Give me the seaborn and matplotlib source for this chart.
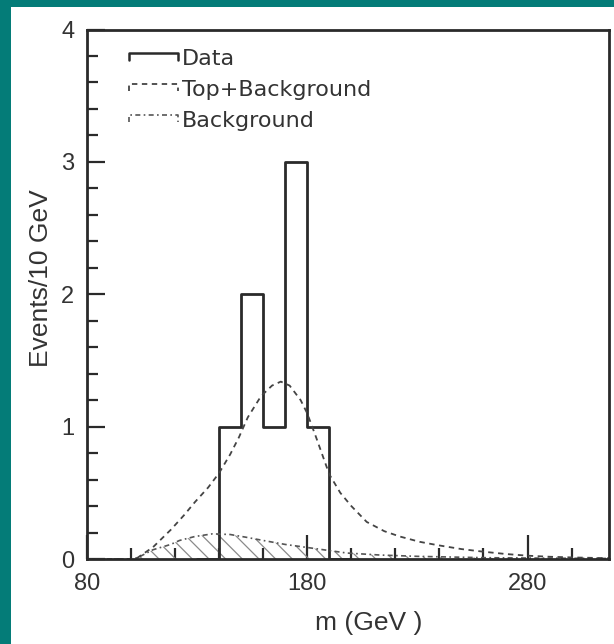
import numpy as np
import pandas as pd
import seaborn as sns
import matplotlib.pyplot as plt
from matplotlib.lines import Line2D
from matplotlib.patches import Rectangle
from matplotlib.legend_handler import HandlerBase
from matplotlib.ticker import FixedLocator, MultipleLocator

# data histogram, 10 GeV bins (empty outer bins close the outline at zero)
bin_edges = [130, 140, 150, 160, 170, 180, 190, 200]
bin_counts = [0, 1, 2, 1, 3, 1, 0]

# top + background expectation
sig_mass = [80, 100, 103, 110, 118, 124, 129, 135, 140, 145, 149, 153, 159, 164, 168,
            172, 177, 180, 184, 190, 195, 200, 207, 215, 222, 231, 239, 250, 260, 270,
            280, 290, 300, 317]
sig_events = [0, 0, 0.01, 0.09, 0.22, 0.33, 0.43, 0.54, 0.65, 0.79, 0.92, 1.07, 1.23, 1.31, 1.34,
              1.31, 1.2, 1.1, 0.92, 0.64, 0.5, 0.4, 0.28, 0.21, 0.17, 0.13, 0.105, 0.075, 0.055, 0.038,
              0.025, 0.017, 0.012, 0.006]

# background only
bg_mass = [80, 100, 103, 110, 118, 122, 129, 137, 145, 152, 160, 170, 183, 198, 213,
           230, 260, 290, 317]
bg_events = [0, 0, 0.01, 0.07, 0.11, 0.14, 0.17, 0.19, 0.185, 0.165, 0.14, 0.11, 0.08, 0.045, 0.03,
             0.02, 0.01, 0.006, 0.004]

teal = '#047c78'
ink = '#2a2a2a'


class BracketHandler(HandlerBase):
    """legend glyph drawn like a histogram top edge"""

    def create_artists(self, legend, orig, xd, yd, width, height, fontsize, trans):
        y = yd + height * 0.8
        drop = height * 0.45
        line = Line2D([xd, xd, xd + width, xd + width], [y - drop, y, y, y - drop])
        line.update_from(orig)
        line.set_transform(trans)
        return [line]


def plot_mass():
    sns.set_theme(style='white')
    plt.rcParams['font.family'] = ['Liberation Sans', 'DejaVu Sans']
    plt.rcParams['hatch.linewidth'] = 0.9
    plt.rcParams['hatch.color'] = '#8a8a8a'

    fig = plt.figure(figsize=(6.14, 6.44), dpi=100)
    fig.patch.set_facecolor(teal)
    fig.patches.append(Rectangle((11 / 614, 0), 1, (644 - 7) / 644, transform=fig.transFigure,
                                 facecolor='white', edgecolor='none', zorder=-10))
    ax = fig.add_axes([87 / 614, (644 - 559) / 644, (609 - 87) / 614, (559 - 29.5) / 644])
    ax.set_zorder(5)
    ax.set_facecolor('white')

    centers = [(a + b) / 2 for a, b in zip(bin_edges[:-1], bin_edges[1:])]
    hist_df = pd.DataFrame({'m': centers, 'n': bin_counts})
    sns.histplot(data=hist_df, x='m', weights='n', bins=bin_edges, element='step', fill=False,
                 color=ink, linewidth=2.0, ax=ax)

    ax.fill_between(bg_mass, bg_events, 0, facecolor='none', edgecolor='#8a8a8a',
                    hatch='\\\\', linewidth=0)
    sns.lineplot(x=bg_mass, y=bg_events, ax=ax, color='#555555', linewidth=1.2,
                 linestyle=(0, (3, 2, 1, 2)))
    sns.lineplot(x=sig_mass, y=sig_events, ax=ax, color='#444444', linewidth=1.3,
                 linestyle=(0, (3, 2.5)))

    ax.set_xlim(80, 317)
    ax.set_ylim(0, 4)
    ax.xaxis.set_major_locator(FixedLocator([80, 180, 280]))
    ax.xaxis.set_minor_locator(MultipleLocator(20))
    ax.yaxis.set_major_locator(MultipleLocator(1))
    ax.yaxis.set_minor_locator(MultipleLocator(0.2))
    ax.tick_params(which='both', direction='in', left=True, bottom=True, top=False, right=False,
                   color=ink, width=1.6, labelsize=17, labelcolor='#333333')
    ax.tick_params(axis='y', which='major', length=13, pad=9)
    ax.tick_params(axis='y', which='minor', length=8)
    ax.tick_params(axis='x', which='major', length=17, pad=10)
    ax.tick_params(axis='x', which='minor', length=8)
    for side in ax.spines.values():
        side.set_color(ink)
        side.set_linewidth(2.0)

    ax.set_xlabel('m (GeV )', fontsize=19, color='#333333')
    ax.set_ylabel('Events/10 GeV', fontsize=19, color='#333333')
    ax.xaxis.set_label_coords(0.54, -0.098)
    ax.yaxis.set_label_coords(-0.066, 0.53)

    handles = [
        Line2D([], [], color=ink, linewidth=1.8),
        Line2D([], [], color='#444444', linewidth=1.3, linestyle=(0, (3, 2.5))),
        Line2D([], [], color='#555555', linewidth=1.2, linestyle=(0, (3, 2, 1, 2))),
    ]
    ax.legend(handles, ['Data', 'Top+Background', 'Background'], loc='upper left',
              bbox_to_anchor=(0.08, 0.963), frameon=False, borderaxespad=0, borderpad=0,
              prop={'family': 'DejaVu Sans', 'size': 16}, labelcolor='#333333',
              handlelength=2.2, handletextpad=0.2, labelspacing=0.5,
              handler_map={Line2D: BracketHandler()})

    fig.savefig('out.png', dpi=100, facecolor=fig.get_facecolor())


if __name__ == "__main__":
    plot_mass()
